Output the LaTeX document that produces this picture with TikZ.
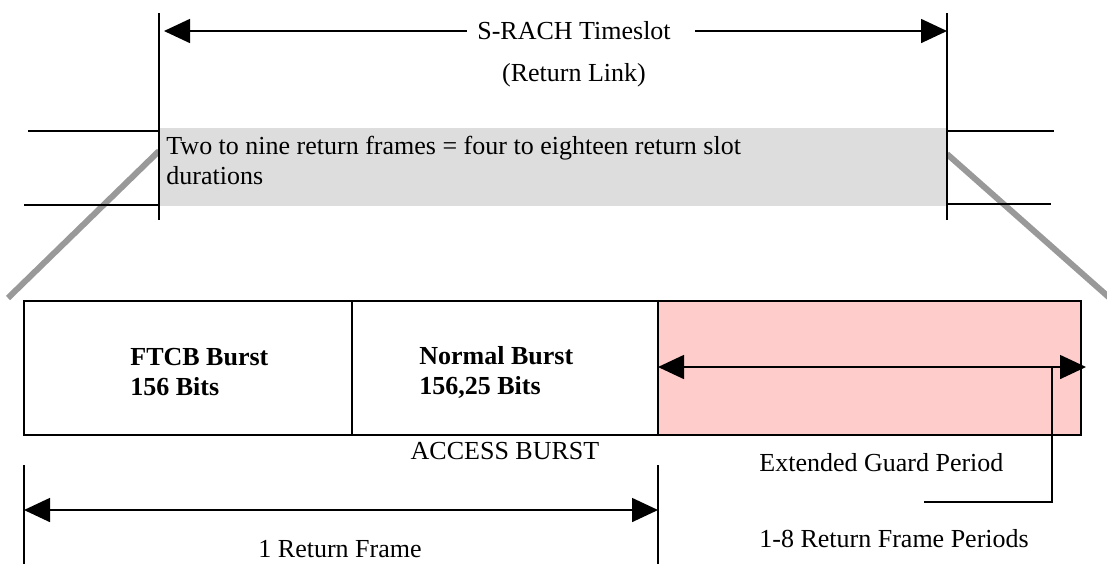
\documentclass[tikz,border=0pt]{standalone}
\usepackage{fontspec}
\setmainfont{Liberation Serif}
\usetikzlibrary{arrows.meta, math}
\definecolor{slotgray}{RGB}{221,221,221}
\definecolor{zoomgray}{RGB}{153,153,153}
\definecolor{guardpink}{RGB}{255,204,204}

\begin{document}
\begin{tikzpicture}[x=0.5pt,y=-0.5pt,
  font=\fontsize{13}{15}\selectfont,
  thinline/.style={line width=0.8pt},
  tip/.style={thinline,-{Triangle[length=13pt,width=12pt]}},
  dim/.style={thinline,{Triangle[length=13pt,width=12pt]}-{Triangle[length=13pt,width=12pt]}},
  burst/.style={line width=1pt},
  zoomline/.style={zoomgray,line width=3pt}]
\tikzmath{
\xa=159; \xb=947;
\xl=24; \xm=352; \xn=658; \xr=1081;
\yt=301; \yb=435;
\yg=367;
}
\useasboundingbox (0,0) rectangle (1107,564);

% zoom lines
\draw[zoomline] (\xa,151) -- (8,298);
\draw[zoomline] (\xb,154) -- (1112,300);

%%%%%%%%%%   S-RACH timeslot
\fill[slotgray] (\xa,128) rectangle (\xb,206);
\node[anchor=north west,align=left,inner sep=0] (frames) at (166,136)
  {Two to nine return frames = four to eighteen return slot\\durations};

\draw[thinline] (\xa,13) -- (\xa,220);
\draw[thinline] (\xb,13) -- (\xb,220);
\draw[thinline] (28,131) -- (\xa,131);
\draw[thinline] (24,205) -- (\xa,205);
\draw[thinline] (\xb,131) -- (1054,131);
\draw[thinline] (\xb,204) -- (1051,204);

\node[inner sep=5pt] (slot) at (574,31) {S-RACH Timeslot};
\node (link) at (574,75) {(Return Link)};
\coordinate (slotL) at (164,31);
\coordinate (slotR) at (\xb,31);
\draw[tip] (slot.west) -- (slotL);
\draw[tip] ([xshift=7pt]slot.east) -- (slotR);

%%%%%%%%%%   access burst
\draw[burst] (\xl,\yt) rectangle (\xm,\yb);
\draw[burst] (\xm,\yt) rectangle (\xn,\yb);
\draw[burst,fill=guardpink] (\xn,\yt) rectangle (\xr,\yb);

\node[anchor=west,align=left,inner sep=0,font=\fontsize{13}{15}\selectfont\bfseries] (ftcb) at (130,372) {FTCB Burst\\156 Bits};
\node[anchor=west,align=left,inner sep=0,font=\fontsize{13}{15}\selectfont\bfseries] (normal) at (419,372) {Normal Burst\\156,25 Bits};
\node (access) at (505,451) {ACCESS BURST};

\coordinate (gL) at (\xn,\yg);
\coordinate (gR) at (1086,\yg);
\draw[dim] (gL) -- (gR);
\coordinate (gK) at (1052,\yg);
\coordinate (gE) at (924,502);
\draw[thinline] (gK) |- (gE);
\node[anchor=west,inner sep=0] (extended) at (759,463) {Extended Guard Period};
\node[anchor=west,inner sep=0] (periods) at (759,539) {1-8 Return Frame Periods};

%%%%%%%%%%   return frame
\draw[thinline] (\xl,465) -- (\xl,564);
\draw[thinline] (\xn,465) -- (\xn,564);
\coordinate (fL) at (\xl,510);
\coordinate (fR) at (\xn,510);
\draw[dim] (fL) -- (fR);
\node (frame) at (340,549) {1 Return Frame};

\end{tikzpicture}
\end{document}
